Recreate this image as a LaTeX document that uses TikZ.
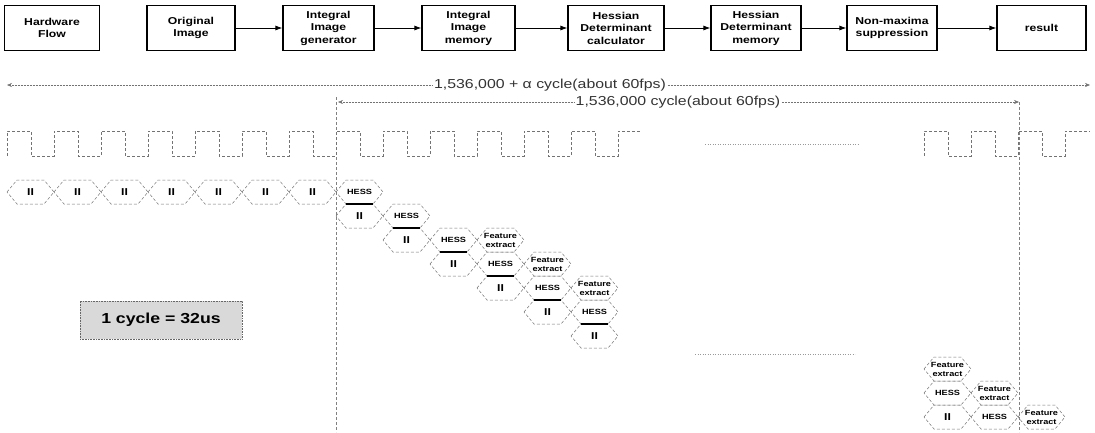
\documentclass[tikz,border=0pt]{standalone}
\usepackage{fontspec}
\setmainfont{Liberation Sans}[FakeStretch=1.22]
\usetikzlibrary{arrows.meta}
\newcommand{\iiface}{\bfseries\fontsize{10}{10}\selectfont}
\newcommand{\hexa}[4]{%
  \draw[hexline] (#2,#3+12) -- ++(10,-12) -- ++(27,0) -- ++(10,12) -- ++(-10,12) -- ++(-27,0) -- cycle;
  \node[hextext] (#1) at (#2+23.5,#3+12) {#4};}
\tikzset{
  flowbox/.style={draw=black, line width=1.1pt, align=center, inner sep=0pt,
    minimum height=45, font=\bfseries\fontsize{10}{12.5}\selectfont},
  flowarrow/.style={draw=black, line width=0.9pt, -{Latex[length=7pt,width=5pt]}},
  dimline/.style={draw=black!55, line width=0.5pt, densely dotted},
  vline/.style={draw=black!50, line width=0.5pt, densely dashed},
  clk/.style={draw=black!55, line width=0.6pt, densely dashed},
  hexline/.style={draw=black!55, line width=0.5pt, densely dashed},
  hextext/.style={inner sep=0pt, align=center, font=\bfseries\fontsize{7.5}{9}\selectfont},
  dimlabel/.style={inner sep=1.5pt, font=\fontsize{13}{15}\selectfont, text=black!80},
  gapline/.style={draw=black!40, line width=0.5pt, dotted}
}
\begin{document}
\begin{tikzpicture}[x=1pt,y=-1pt]
\useasboundingbox (0,0) rectangle (1095,432);
% top flow
\node[flowbox, minimum width=95] (hw) at (52,28) {Hardware\\Flow};
\node[flowbox, minimum width=88] (oi) at (191,28) {Original\\Image};
\node[flowbox, minimum width=91] (iig) at (328.5,28) {Integral\\Image\\generator};
\node[flowbox, minimum width=93] (iim) at (468.5,28) {Integral\\Image\\memory};
\node[flowbox, minimum width=96] (hdc) at (616,28) {Hessian\\Determinant\\calculator};
\node[flowbox, minimum width=90] (hdm) at (756,28) {Hessian\\Determinant\\memory};
\node[flowbox, minimum width=90] (nms) at (892,28) {Non-maxima\\suppression};
\node[flowbox, minimum width=89] (res) at (1041.5,28) {result};
\draw[flowarrow] (oi) -- (iig);
\draw[flowarrow] (iig) -- (iim);
\draw[flowarrow] (iim) -- (hdc);
\draw[flowarrow] (hdc) -- (hdm);
\draw[flowarrow] (hdm) -- (nms);
\draw[flowarrow] (nms) -- (res);
% dimension arrows
\coordinate (a1l) at (7,85);
\coordinate (a1r) at (1090,85);
\node[dimlabel] (l1) at (550,85) {1,536,000 + α cycle(about 60fps)};
\draw[dimline, {Stealth[length=5pt,width=4pt]}-] (a1l) -- (l1.west);
\draw[dimline, -{Stealth[length=5pt,width=4pt]}] (l1.east) -- (a1r);
\coordinate (a2l) at (338,102);
\coordinate (a2r) at (1019,102);
\node[dimlabel] (l2) at (678,102) {1,536,000 cycle(about 60fps)};
\draw[dimline, {Stealth[length=5pt,width=4pt]}-] (a2l) -- (l2.west);
\draw[dimline, -{Stealth[length=5pt,width=4pt]}] (l2.east) -- (a2r);
% vertical markers
\coordinate (v1t) at (336,97);
\coordinate (v1b) at (336,432);
\coordinate (v2t) at (1019,102);
\coordinate (v2b) at (1019,432);
\draw[vline] (v1t) -- (v1b);
\draw[vline] (v2t) -- (v2b);
% clock
\draw[clk] (7,156) foreach \k in {0,...,12} { -- (7+47*\k,131) -- (31+47*\k,131) -- (31+47*\k,156) -- (54+47*\k,156) } -- (618,131) -- (641,131);
\draw[clk] (924,156) -- (924,131) -- (948,131) -- (948,156) -- (971,156) -- (971,131) -- (995,131) -- (995,156) -- (1018,156) -- (1018,131) -- (1042,131) -- (1042,156) -- (1065,156) -- (1065,131) -- (1090,131);
\draw[gapline] (705,144) -- (858,144);
\draw[gapline] (695,354) -- (855,354);
% integral image row
\foreach \i in {0,...,6} { \hexa{ii\i}{7+47*\i}{180}{\iiface II} }
% staircase
\foreach \c/\x in {0/336,1/383,2/430,3/477,4/524,5/571} {
  \pgfmathsetmacro{\yh}{180+24*\c}
  \hexa{hs\c}{\x}{\yh}{HESS}
  \hexa{ic\c}{\x}{\yh+24}{\iiface II}
  \draw[line width=1.4pt] (\x+10,\yh+24) -- (\x+37,\yh+24);
}
\hexa{fe1}{477}{228}{Feature\\extract}
\hexa{fe2}{524}{252}{Feature\\extract}
\hexa{fe3}{571}{276}{Feature\\extract}
% final columns
\hexa{fe4}{924}{357}{Feature\\extract}
\hexa{hs6}{924}{381}{HESS}
\hexa{ic6}{924}{405}{\iiface II}
\hexa{fe5}{971}{381}{Feature\\extract}
\hexa{hs7}{971}{405}{HESS}
\hexa{fe6}{1018}{405}{Feature\\extract}
% legend
\node[draw=black!60, densely dotted, line width=0.6pt, fill=black!15, minimum width=162, minimum height=38, inner sep=0pt, font=\bfseries\fontsize{14.5}{16}\selectfont] (cyc) at (161,320) {1 cycle = 32us};
\end{tikzpicture}
\end{document}
